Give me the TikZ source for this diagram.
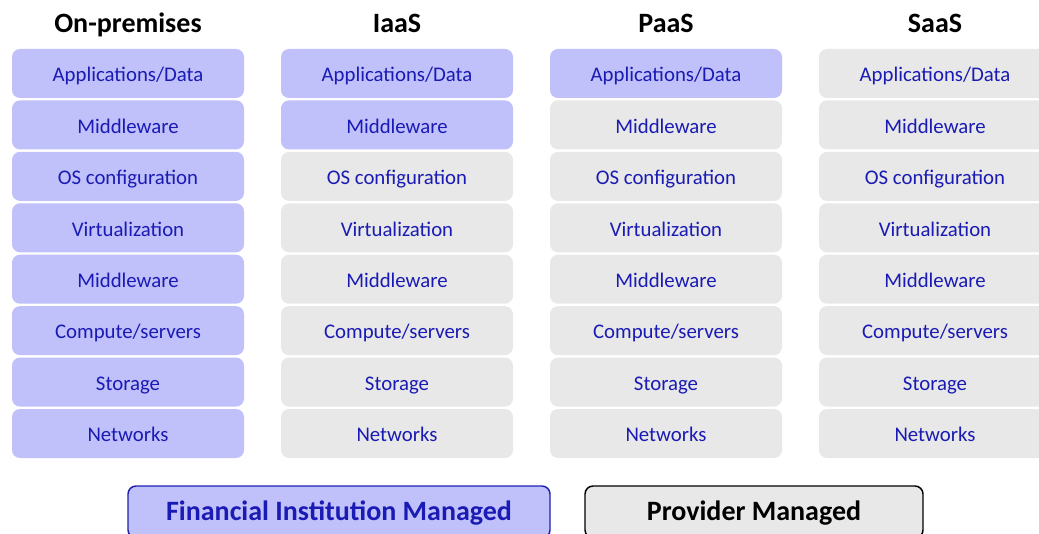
\documentclass[tikz,border=0pt]{standalone}
\usepackage{fontspec}
\setmainfont{Carlito}
\usetikzlibrary{positioning}
\definecolor{FIBlue}{HTML}{C0C0FA}
\definecolor{FIText}{HTML}{1A1AB4}
\definecolor{FIEdge}{HTML}{2020B0}
\definecolor{PMGray}{HTML}{E8E8E8}

\begin{document}
\begin{tikzpicture}[x=0.75pt, y=-0.75pt,
  layer/.style={rectangle, rounded corners=6pt, minimum width=174pt, minimum height=36.75pt, inner sep=0pt,
    text height=12.4pt, text depth=0pt, text=FIText, font=\fontsize{15.6}{18}\selectfont},
  fi/.style={layer, fill=FIBlue},
  pm/.style={layer, fill=PMGray},
  head/.style={anchor=base, font=\bfseries\fontsize{21}{24}\selectfont, text=black},
  leg/.style={rectangle, rounded corners=6pt, line width=1.1pt, minimum height=39pt, inner sep=0pt,
    text height=13pt, text depth=0pt, font=\bfseries\fontsize{21}{24}\selectfont}]
  \clip (0,0) rectangle (1039,534);
  \useasboundingbox (0,0) rectangle (1039,534);
  % columns: title / number of institution managed layers
  \foreach \ttl/\nfi [count=\c] in {On-premises/8, IaaS/2, PaaS/1, SaaS/0} {
    \node[head] (h\c) at (128+269*\c-269, 32.5) {\ttl};
    \foreach \lay [count=\r] in {{Applications/Data}, Middleware, OS configuration, Virtualization,
                                 Middleware, Compute/servers, Storage, Networks} {
      \ifnum\r>\nfi \def\sty{pm}\else \def\sty{fi}\fi
      \node[\sty] (c\c r\r) at (128+269*\c-269, 73.5+51.43*\r-51.43) {\lay};
    }
  }
  % legend
  \node[leg, draw=FIEdge, fill=FIBlue, text=FIText, minimum width=316.5pt] (legfi) at (339, 512) {Financial Institution Managed};
  \node[leg, draw=black, fill=PMGray, minimum width=253.5pt] (legpm) at (754, 512) {Provider Managed};
\end{tikzpicture}
\end{document}
